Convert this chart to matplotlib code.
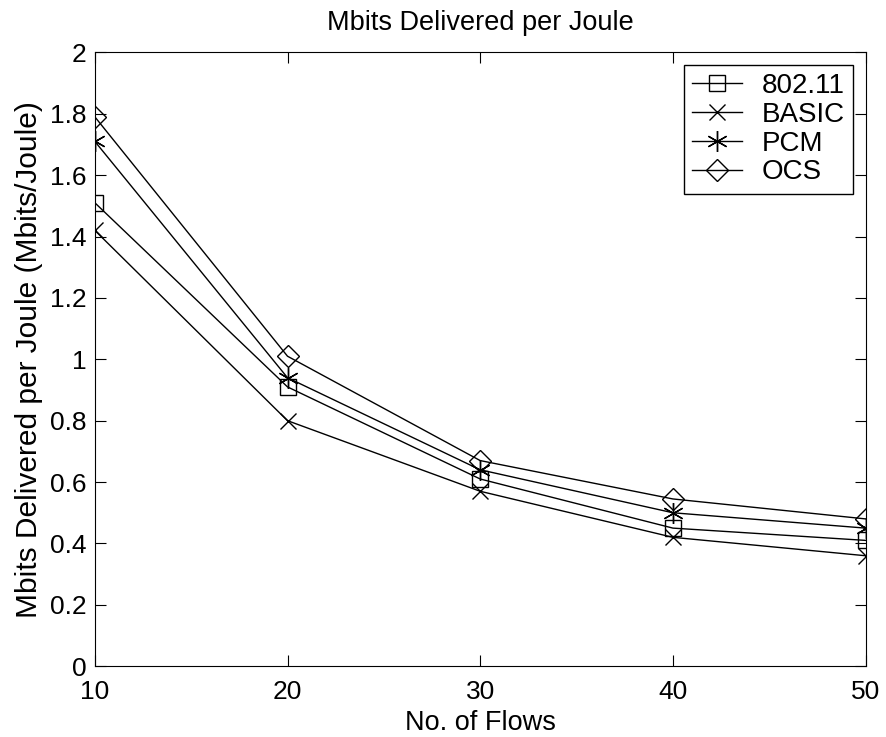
import matplotlib
matplotlib.use("Agg")
import matplotlib.pyplot as plt

plt.rcParams['font.family'] = ['Liberation Sans', 'DejaVu Sans']

flows = [10, 20, 30, 40, 50]
ieee80211 = [1.51, 0.91, 0.61, 0.45, 0.41]
basic = [1.42, 0.80, 0.57, 0.42, 0.36]
pcm = [1.71, 0.94, 0.64, 0.50, 0.45]
ocs = [1.79, 1.01, 0.67, 0.545, 0.48]

fig = plt.figure(figsize=(8.86, 7.37), dpi=100)
ax = fig.add_axes([0.107, 0.096, 0.870, 0.833])

style = dict(color='black', linewidth=1.0, markersize=12, markerfacecolor='none',
             markeredgewidth=1.0)
ax.plot(flows, ieee80211, marker='s', label='802.11', **style)
ax.plot(flows, basic, marker='x', label='BASIC', **style)
ax.plot(flows, pcm, marker=(6, 2, 0), label='PCM', **dict(style, markersize=15))
ax.plot(flows, ocs, marker='D', label='OCS', **dict(style, markersize=11))

ax.set_xlim(10, 50)
ax.set_ylim(0, 2)
ax.set_xticks([10, 20, 30, 40, 50])
ax.set_yticks([0, 0.2, 0.4, 0.6, 0.8, 1, 1.2, 1.4, 1.6, 1.8, 2])
ax.set_yticklabels(['0', '0.2', '0.4', '0.6', '0.8', '1', '1.2', '1.4', '1.6', '1.8', '2'])
ax.tick_params(direction='in', top=True, right=True, labelsize=19, length=8)
ax.tick_params(axis='x', pad=10)
ax.tick_params(axis='y', pad=6)

ax.set_title('Mbits Delivered per Joule', fontsize=19.5, pad=16)
ax.set_xlabel('No. of Flows', fontsize=19.5, labelpad=4)
ax.set_ylabel('Mbits Delivered per Joule (Mbits/Joule)', fontsize=21.5, labelpad=5)

leg = ax.legend(loc='upper right', fontsize=20, fancybox=False, edgecolor='black',
                framealpha=1, handlelength=1.8, borderaxespad=0.45, labelspacing=0.1,
                handletextpad=0.7, borderpad=0.3)
leg.get_frame().set_linewidth(1.0)

fig.savefig('out.png', dpi=100)
